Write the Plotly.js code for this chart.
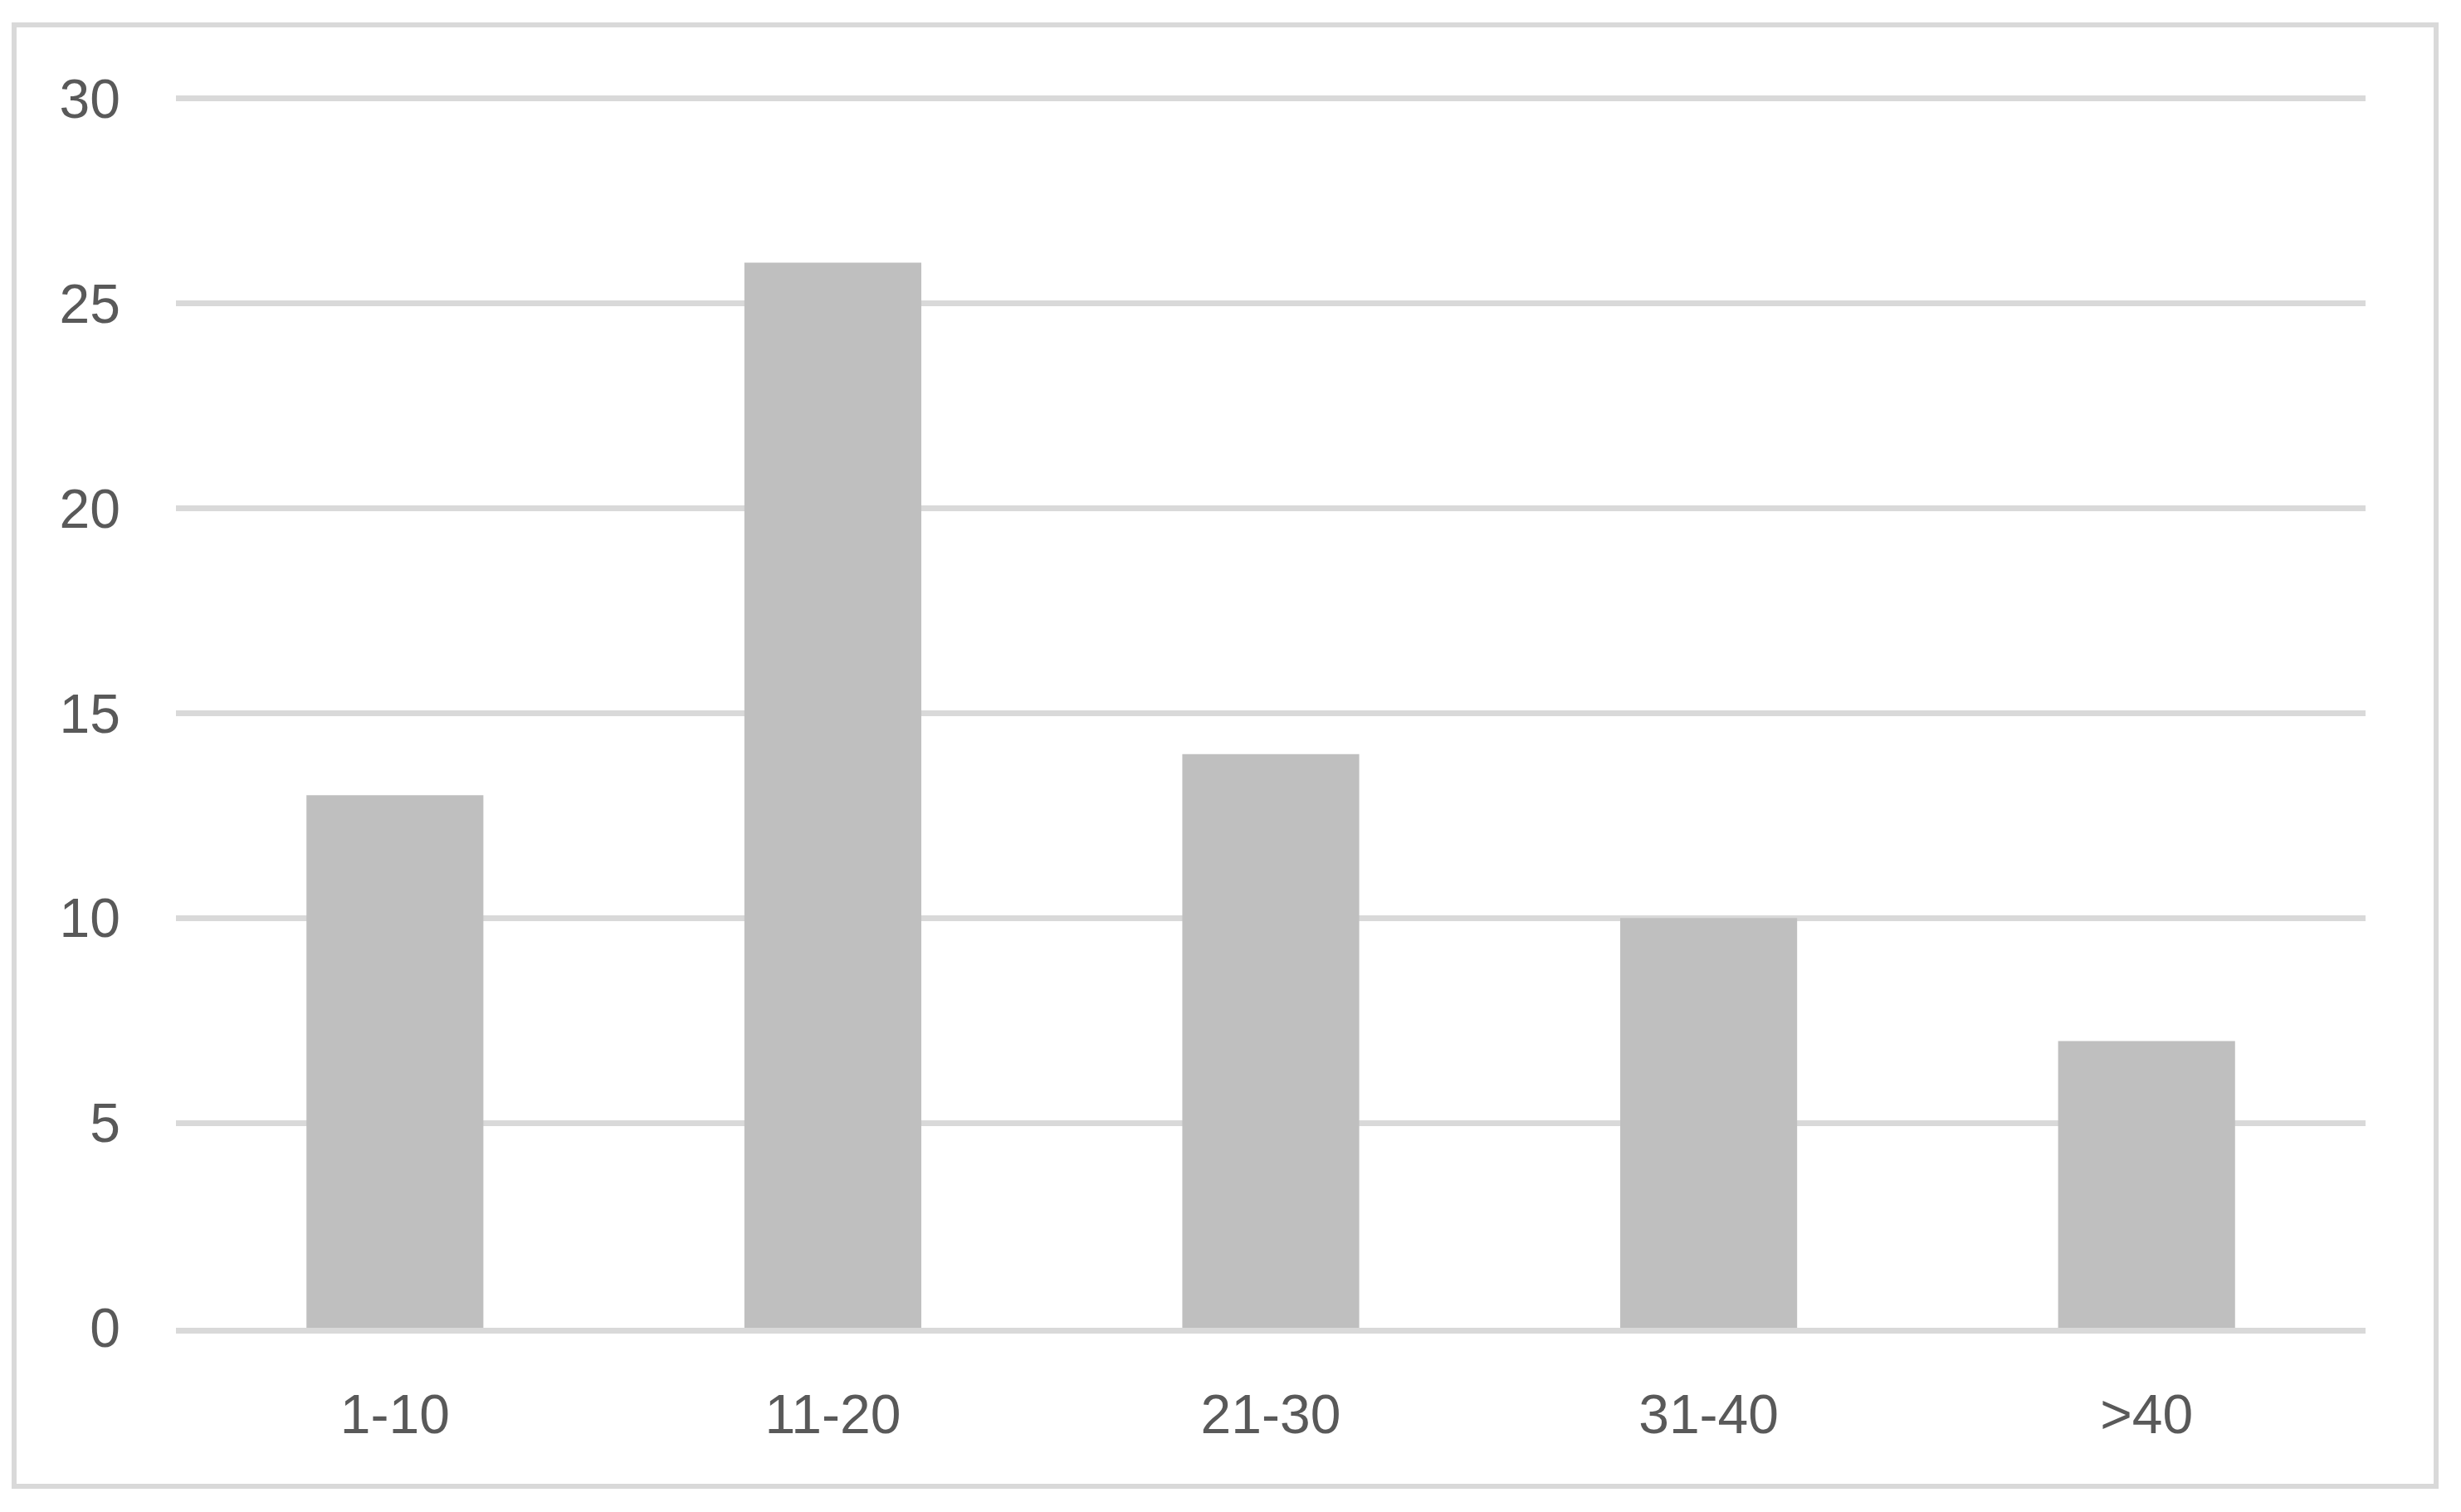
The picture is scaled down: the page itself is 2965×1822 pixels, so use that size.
<!DOCTYPE html>
<html>
<head>
<meta charset="utf-8">
<script src="https://cdn.plot.ly/plotly-3.0.1.min.js"></script>
<style>
  html, body { margin: 0; padding: 0; background: #ffffff; }
  #frame {
    position: absolute;
    left: 14px;
    top: 27px;
    width: 2912px;
    height: 1755px;
    border: 6px solid #D9D9D9;
  }
  #chart { width: 2912px; height: 1755px; }
</style>
</head>
<body>
<div id="frame"><div id="chart"></div></div>
<script>
// Age groups on the x axis and their counts.
const categories = ["1-10", "11-20", "21-30", "31-40", ">40"];
const counts = [13, 26, 14, 10, 7];
const yTicks = [0, 5, 10, 15, 20, 25, 30];

const textColor = '#595959';
const lineColor = '#D9D9D9';

const data = [{
  type: 'bar',
  x: categories,
  y: counts,
  marker: { color: '#BFBFBF' },
  hoverinfo: 'x+y'
}];

const layout = {
  width: 2912,
  height: 1755,
  margin: { l: 192, r: 82, t: 81, b: 188 },
  paper_bgcolor: '#ffffff',
  plot_bgcolor: '#ffffff',
  bargap: 0.596,
  showlegend: false,
  font: {
    family: 'Liberation Sans, Arial, sans-serif',
    size: 66,
    color: textColor
  },
  xaxis: {
    type: 'category',
    showgrid: false,
    showline: true,
    linecolor: lineColor,
    linewidth: 7,
    ticks: '',
    ticklabelstandoff: 41,
    tickfont: { size: 66, color: textColor }
  },
  yaxis: {
    // a little headroom so the gridline at 30 is not dropped at the edge
    range: [0, 30.1],
    tickvals: yTicks,
    showgrid: true,
    gridcolor: lineColor,
    gridwidth: 7,
    zeroline: false,
    showline: false,
    ticks: '',
    ticklabelstandoff: 66,
    tickfont: { size: 66, color: textColor }
  }
};

Plotly.newPlot('chart', data, layout, { displayModeBar: false, staticPlot: true });
</script>
</body>
</html>
